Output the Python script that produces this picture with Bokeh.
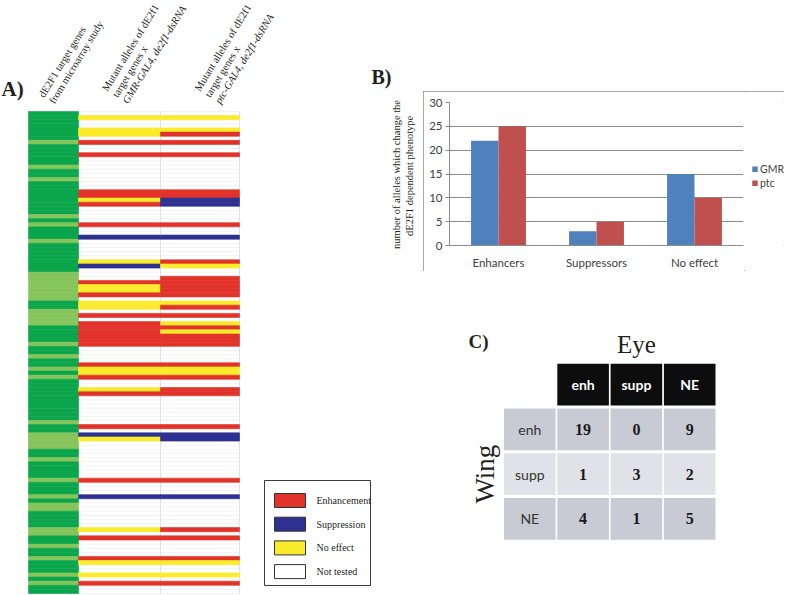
import math
from bokeh.plotting import figure
from bokeh.models import Range1d, FactorRange, Spacer, ColumnDataSource
from bokeh.layouts import row, column
from bokeh.transform import dodge
from bokeh.core.properties import value
from bokeh.embed import file_html
from bokeh.resources import INLINE

# ---------------------------------------------------------------- data
# Panel A: one entry per dE2F1 target gene (row), top to bottom.
# microarray class: D = dark green, L = light green
MICROARRAY = list("DDDDDDDLDD" "DDDLDDLDDD" "DDDDDLDLDD" "DLDDDDDDDL"
                  "LLLLLLDDLL" "LLDDDDLDDL" "DDLDLDDDDD" "DDDDDLDDLL"
                  "LLDDLDDDDL" "DDDLDLLDDD" "DLLDDLDDLD" "DDLDLDD")
# E = enhancement, S = suppression, N = no effect, - = not tested
GMR_EFFECT = list("-N--NN-E--" "E--------E" "ENE----E--" "S-----NS--"
                  "-ENNE-NN-E" "-EEEEEE---" "-ENNE--NE-" "------E-SN"
                  "---------E" "---S------" "-N-E----EN" "--N-E--")
PTC_EFFECT = list("-N--NE-E--" "E--------E" "ESS----E--" "S-----EN--"
                  "EEEEE-NE-E" "-NENEEE---" "-ENNE--EE-" "------E-SS"
                  "---------E" "---S------" "-E-E----EN" "--N-E--")
LEGEND_CODES = ["E", "S", "N", "-"]
LEGEND_LABELS = ["Enhancement", "Suppression", "No effect", "Not tested"]
HEADER_LINES = [
    ["dE2F1 target genes", "from microarray study"],
    ["Mutant alleles of dE2f1", "target genes x", "GMR-GAL4, de2f1-dsRNA"],
    ["Mutant alleles of dE2f1", "target genes x", "ptc-GAL4, de2f1-dsRNA"],
]
HEADER_ITALIC_LAST = [False, True, True]

# Panel B
BAR_CATEGORIES = ["Enhancers", "Suppressors", "No effect"]
GMR_COUNTS = [22, 3, 15]
PTC_COUNTS = [25, 5, 10]
SERIES_NAMES = ["GMR", "ptc"]
Y_TICKS = [0, 5, 10, 15, 20, 25, 30]

# Panel C (rows = Wing, columns = Eye)
EYE_LEVELS = ["enh", "supp", "NE"]
WING_LEVELS = ["enh", "supp", "NE"]
CROSS_COUNTS = [[19, 0, 9],
                [1, 3, 2],
                [4, 1, 5]]

# ---------------------------------------------------------------- styles
EFFECT_COLORS = {"E": "#e2332a", "S": "#2e3192", "N": "#fbec2b", "-": "#ffffff"}
MICRO_COLORS = {"D": "#0ba64c", "L": "#86c55b"}
SERIES_COLORS = ["#4f81bd", "#c0504d"]
SERIF = value("Liberation Serif")
SANS = value("Lato")
INK = "#231f20"

# ---------------------------------------------------------------- panel A
ROW_PX = 4.12       # pixel height of one gene row
HEAT_TOP = 111.0    # page y of first row
A_W, A_H = 423, 595


def ry(page_y):
    return (page_y - HEAT_TOP) / ROW_PX


COL_EDGES = [28, 78, 160, 239]

pA = figure(width=A_W, height=A_H, x_range=Range1d(0, A_W),
            y_range=Range1d(ry(A_H), ry(0)), output_backend="svg",
            toolbar_location=None, x_axis_location=None, y_axis_location=None,
            min_border=0)
pA.grid.visible = False
pA.outline_line_color = None

n_rows = len(MICROARRAY)
idx = list(range(n_rows))

# faint table lines
pA.segment(x0=COL_EDGES[1], x1=COL_EDGES[3], y0=idx + [n_rows], y1=idx + [n_rows],
           line_color="#f2f2f2", line_width=1)
pA.segment(x0=[COL_EDGES[2], COL_EDGES[3]], x1=[COL_EDGES[2], COL_EDGES[3]],
           y0=0, y1=n_rows, line_color="#dde1ee", line_width=1)

# microarray column
micro_cols = [MICRO_COLORS[c] for c in MICROARRAY]
pA.quad(left=COL_EDGES[0], right=COL_EDGES[1], top=idx, bottom=[i + 1 for i in idx],
        fill_color=micro_cols, line_color=micro_cols, line_width=0.6)

# allele columns
for ci, codes in enumerate([GMR_EFFECT, PTC_EFFECT]):
    rows_t = [i for i, c in enumerate(codes) if c != "-"]
    cols_t = [EFFECT_COLORS[codes[i]] for i in rows_t]
    pA.quad(left=COL_EDGES[ci + 1], right=COL_EDGES[ci + 2],
            top=rows_t, bottom=[i + 1 for i in rows_t],
            fill_color=cols_t, line_color=cols_t, line_width=0.6)

# rotated column headers (anchor = baseline start of the last line)
HEADER_ANCHOR = [(54, 104), (127.5, 104), (220, 104)]
HEADER_ANGLE = math.radians(58.6)
LEAD = 12.0
MID = 3.5
px_, py_ = math.sin(HEADER_ANGLE), math.cos(HEADER_ANGLE)
norm = {"x": [], "y": [], "t": []}
ital = {"x": [], "y": [], "t": []}
for lines, it, (ax, ay) in zip(HEADER_LINES, HEADER_ITALIC_LAST, HEADER_ANCHOR):
    n = len(lines)
    for k, line in enumerate(lines):
        back = (n - 1 - k) * LEAD + MID
        d = ital if (it and k == n - 1) else norm
        d["x"].append(ax - back * px_)
        d["y"].append(ry(ay - back * py_))
        d["t"].append(line)
for d, style in [(norm, "normal"), (ital, "italic")]:
    pA.text(x=d["x"], y=d["y"], text=d["t"], angle=HEADER_ANGLE,
            text_font=SERIF, text_font_size="10.5px", text_font_style=style,
            text_color=INK, text_align="left", text_baseline="middle")

pA.text(x=[1], y=[ry(88.5)], text=["A)"], text_font=SERIF, text_font_size="21px",
        text_font_style="bold", text_color=INK, text_baseline="middle")
pA.text(x=[371], y=[ry(76)], text=["B)"], text_font=SERIF, text_font_size="20px",
        text_font_style="bold", text_color=INK, text_baseline="middle")

# legend box for panel A
pA.quad(left=264, right=370, top=ry(480), bottom=ry(585), fill_color=None,
        line_color="#3a3a3a", line_width=1)
LEG_Y0, LEG_PITCH = 500.0, 23.7
leg_y = [ry(LEG_Y0 + k * LEG_PITCH) for k in range(len(LEGEND_CODES))]
half = 7.0 / ROW_PX
pA.quad(left=274, right=305, top=[y - half for y in leg_y], bottom=[y + half for y in leg_y],
        fill_color=[EFFECT_COLORS[c] for c in LEGEND_CODES], line_color="#333333",
        line_width=1)
pA.text(x=316, y=leg_y, text=LEGEND_LABELS, text_font=SERIF, text_font_size="10px",
        text_color=INK, text_baseline="middle")

# y axis title of panel B (outside its chart box)
pA.text(x=[402.5], y=[ry(174)],
        text=["number of alleles which change the\ndE2F1 dependent  phenotype"],
        angle=math.pi / 2, text_font=SERIF, text_font_size="10.5px",
        text_color=INK, text_align="center", text_baseline="middle")

# ---------------------------------------------------------------- panel B
pB = figure(width=321, height=180, x_range=FactorRange(*BAR_CATEGORIES),
            y_range=Range1d(0, 30), output_backend="svg", toolbar_location=None,
            min_border_left=26, min_border_right=1, min_border_top=11,
            min_border_bottom=19)
src = ColumnDataSource(dict(cat=BAR_CATEGORIES, gmr_n=GMR_COUNTS, ptc_n=PTC_COUNTS))
pB.vbar(x=dodge("cat", -0.14, range=pB.x_range), top="gmr_n", width=0.28,
        source=src, fill_color=SERIES_COLORS[0], line_color=None)
pB.vbar(x=dodge("cat", 0.14, range=pB.x_range), top="ptc_n", width=0.28,
        source=src, fill_color=SERIES_COLORS[1], line_color=None)
pB.outline_line_color = None
pB.xgrid.grid_line_color = None
pB.ygrid.grid_line_color = "#8c8c8c"
pB.ygrid.ticker = Y_TICKS
pB.yaxis.ticker = Y_TICKS
for ax in pB.axis:
    ax.axis_line_color = "#8c8c8c"
    ax.major_label_text_font = "Lato"
    ax.major_label_text_font_size = "11.5px"
    ax.major_label_text_color = "#404040"
    ax.minor_tick_line_color = None
    ax.major_tick_in = 0
pB.yaxis.major_tick_out = 4
pB.yaxis.major_tick_line_color = "#8c8c8c"
pB.yaxis.major_label_standoff = 3
pB.xaxis.major_tick_line_color = None
pB.xaxis.major_label_standoff = 4

# series key, to the right of the plot area
LEG_X0, LEG_TOP, LEG_W = 744, 91, 40
pLeg = figure(width=LEG_W, height=180, x_range=Range1d(LEG_X0, LEG_X0 + LEG_W),
              y_range=Range1d(LEG_TOP + 180, LEG_TOP), output_backend="svg",
              toolbar_location=None, x_axis_location=None, y_axis_location=None,
              min_border=0)
pLeg.grid.visible = False
pLeg.outline_line_color = None
key_y = [175 + k * 17.5 for k in range(len(SERIES_NAMES))]
pLeg.scatter(x=754.5, y=key_y, marker="square", size=5.5, fill_color=SERIES_COLORS,
             line_color=None)
pLeg.text(x=759.5, y=key_y, text=SERIES_NAMES, text_font=SANS, text_font_size="10.5px",
          text_color="#404040", text_baseline="middle")

chart_b = row(pB, pLeg, styles={"outline": "1px solid #8c8c8c",
                                "outline-offset": "-1px"})

# ---------------------------------------------------------------- panel C
C_W, C_H, C_TOP, C_LEFT = 377, 324, 271, 423
COL_PX, ROWC_PX = 53.3, 44.7
x0 = -(529.3 - C_LEFT) / COL_PX
y0 = -(384.2 - C_TOP) / ROWC_PX


def cxp(page_x):
    return (page_x - 529.3) / COL_PX


def cyp(page_y):
    return (page_y - 384.2) / ROWC_PX


pC = figure(width=C_W, height=C_H, x_range=Range1d(x0, x0 + C_W / COL_PX),
            y_range=Range1d(y0 + C_H / ROWC_PX, y0), output_backend="svg",
            toolbar_location=None, x_axis_location=None, y_axis_location=None,
            min_border=0)
pC.grid.visible = False
pC.outline_line_color = None

CW, CH = 0.968, 0.935
ROW_SHADES = ["#c9cbd4", "#e1e2e7", "#c9cbd4"]
hx = [j + 1 for j in range(len(EYE_LEVELS))]
pC.rect(x=hx, y=0, width=CW, height=CH, fill_color="#0d0d0d", line_color=None)
pC.text(x=hx, y=0, text=EYE_LEVELS, text_font=SANS, text_font_style="bold",
        text_font_size="14px", text_color="#ffffff", text_align="center",
        text_baseline="middle")
bx, by, bc = [], [], []
for i, wl in enumerate(WING_LEVELS):
    for j in range(len(EYE_LEVELS) + 1):
        bx.append(j)
        by.append(i + 1)
        bc.append(ROW_SHADES[i])
pC.rect(x=bx, y=by, width=CW, height=CH, fill_color=bc, line_color=None)
pC.text(x=0, y=[i + 1 for i in range(len(WING_LEVELS))], text=WING_LEVELS,
        text_font=SANS, text_font_size="14px", text_color="#333333",
        text_align="center", text_baseline="middle")
nx, ny, nt = [], [], []
for i, rowv in enumerate(CROSS_COUNTS):
    for j, v in enumerate(rowv):
        nx.append(j + 1)
        ny.append(i + 1)
        nt.append(str(v))
pC.text(x=nx, y=ny, text=nt, text_font=SERIF, text_font_style="bold",
        text_font_size="16px", text_color="#1a1a1a", text_align="center",
        text_baseline="middle")
pC.text(x=[2], y=[cyp(344)], text=["Eye"], text_font=SERIF,
        text_font_size="25px", text_color=INK, text_align="center",
        text_baseline="middle")
pC.text(x=[cxp(484)], y=[2], text=["Wing"], angle=math.pi / 2,
        text_font=SERIF, text_font_size="27px", text_color=INK,
        text_align="center", text_baseline="middle")
pC.text(x=[cxp(468)], y=[cyp(341)], text=["C)"],
        text_font=SERIF, text_font_size="19px", text_font_style="bold",
        text_color=INK, text_baseline="middle")

layout = row(pA, column(Spacer(width=C_W, height=91), chart_b, pC))
open("out.html", "w").write(file_html(layout, INLINE))
